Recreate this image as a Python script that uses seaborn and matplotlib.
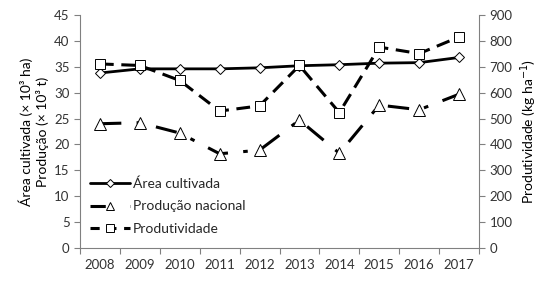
import matplotlib
matplotlib.use("Agg")
import matplotlib.pyplot as plt
from matplotlib.lines import Line2D
import seaborn as sns
import numpy as np
import pandas as pd

years = ["2008", "2009", "2010", "2011", "2012", "2013", "2014", "2015", "2016", "2017"]
area = [33.8, 34.6, 34.6, 34.6, 34.8, 35.2, 35.4, 35.7, 35.8, 36.8]
producao = [24.0, 24.2, 22.2, 18.2, 18.9, 24.7, 18.3, 27.6, 26.7, 29.7]
produtividade = [711, 705, 647, 529, 549, 705, 523, 776, 751, 815]
labels = ["Área cultivada", "Produção nacional", "Produtividade"]

sns.set_theme(style="white")
plt.rcParams['font.family'] = ['Lato', 'DejaVu Sans']

fig = plt.figure(figsize=(5.51, 2.88), dpi=100)
ax = fig.add_axes([80/551, 1-248/288, (479-80)/551, (248-15)/288])
ax2 = ax.twinx()

x = np.arange(len(years))
df = pd.DataFrame({"x": x, "area": area, "prod": producao, "pt": produtividade})

gray = "#808080"
mk = dict(markerfacecolor="white", markeredgecolor="black", markeredgewidth=0.7)

sns.lineplot(data=df, x="x", y="area", ax=ax, color="black", lw=2, marker="D",
             markersize=5.5, legend=False, **mk)
sns.lineplot(data=df, x="x", y="prod", ax=ax, color="black", lw=2.2, marker="^",
             markersize=8, legend=False, **mk)
ax.lines[-1].set_dashes([7, 5, 1.5, 5])
sns.lineplot(data=df, x="x", y="pt", ax=ax2, color="black", lw=2.2, marker="s",
             markersize=7, legend=False, **mk)
ax2.lines[-1].set_dashes([4.5, 2.5])

ax.set_xlim(-0.5, 9.5)
ax.set_ylim(0, 45)
ax2.set_ylim(0, 900)
ax.set_yticks(np.arange(0, 46, 5))
ax2.set_yticks(np.arange(0, 901, 100))
ax.set_xticks(x)
ax.set_xticklabels(years)
ax.set_xticks(np.arange(-0.5, 10, 1), minor=True)
ax.tick_params(axis="x", which="major", length=0, pad=8, labelsize=9.5, colors="#333333")
ax.tick_params(axis="x", which="minor", length=4, color=gray, width=0.8, direction="out", bottom=True)
ax.tick_params(axis="y", length=4, color=gray, width=0.8, direction="out", left=True, labelsize=9.5, colors="#333333")
ax2.tick_params(axis="y", length=4, color=gray, width=0.8, direction="out", right=True, labelsize=9.5, colors="#333333")
for a in (ax, ax2):
    for s in a.spines.values():
        s.set_color(gray)
        s.set_linewidth(0.8)
    a.spines["top"].set_visible(False)
ax2.spines["left"].set_visible(False)
ax2.spines["bottom"].set_visible(False)
ax.spines["right"].set_visible(False)
ax.set_xlabel("")
ax.set_ylabel("Área cultivada (× 10³ ha)\nProdução (× 10³ t)", fontsize=10, color="black", labelpad=4)
ax2.set_ylabel(r"Produtividade (kg ha$^{-1}$)", fontsize=10, color="black", labelpad=4)
ax.grid(False); ax2.grid(False)

handles = [
    Line2D([], [], color="black", lw=2, marker="D", markersize=4, **mk),
    Line2D([], [], color="black", lw=2.2, marker="^", markersize=6, dashes=[5, 8], **mk),
    Line2D([], [], color="black", lw=2.2, marker="s", markersize=5.5, dashes=[3, 2.5], **mk),
]
ax.legend(handles, labels, loc="lower left", bbox_to_anchor=(0.0, 0.015), frameon=False,
          fontsize=10, handlelength=2.9, labelspacing=0.75, handletextpad=0.2, borderaxespad=0.3)

fig.savefig("out.png", dpi=100)
